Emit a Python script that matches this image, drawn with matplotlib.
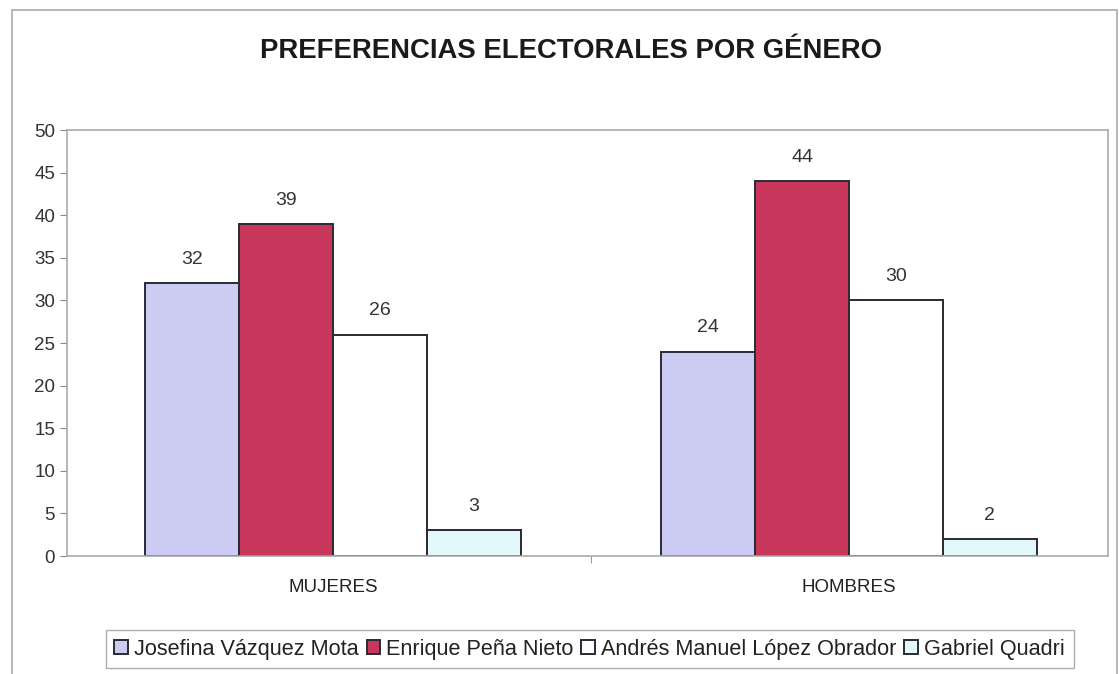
import numpy as np
from matplotlib import pyplot as plt
from matplotlib.patches import Rectangle

categorias = ['MUJERES', 'HOMBRES']
candidatos = ['Josefina Vázquez Mota', 'Enrique Peña Nieto',
              'Andrés Manuel López Obrador', 'Gabriel Quadri']
josefina = [32, 24]
enrique = [39, 44]
andres = [26, 30]
gabriel = [3, 2]
colores = ['#cbcbf3', '#c8365c', '#ffffff', '#e2f8fa']


def main():
    series = [josefina, enrique, andres, gabriel]
    plt.rcParams['font.family'] = 'Liberation Sans'
    fig = plt.figure(figsize=(11.19, 6.74), dpi=100)
    ax = fig.add_axes([67 / 1119, 0.175, 1041 / 1119, 0.632])

    x = np.arange(len(categorias))
    ancho = 0.182
    for i, valores in enumerate(series):
        pos = x + (i - 1.5) * ancho
        barras = ax.bar(pos, valores, width=ancho, color=colores[i],
                        edgecolor='#2a2a35', linewidth=1.4, label=candidatos[i])
        for b, v in zip(barras, valores):
            ax.annotate(str(v), (b.get_x() + b.get_width() / 2, v),
                        xytext=(0, 11), textcoords='offset points',
                        ha='center', va='bottom', fontsize=14,
                        color='#333333')

    ax.set_xlim(-0.516, 1.502)
    ax.set_ylim(0, 50)
    ax.set_yticks(range(0, 51, 5))
    ax.set_xticks([0.5])
    ax.set_xticklabels([''])
    for xi, cat in zip(x, categorias):
        ax.text(xi, -3.7, cat, ha='center', va='center', fontsize=13.5,
                color='#222222')
    ax.tick_params(axis='y', labelsize=13.5, colors='#888888', labelcolor='#333333',
                   length=5, direction='out')
    ax.tick_params(axis='x', colors='#999999', length=5, direction='out')
    for s in ax.spines.values():
        s.set_color('#aaaaaa')
        s.set_linewidth(1.2)

    fig.text(0.51, 0.924, 'PREFERENCIAS ELECTORALES POR GÉNERO', ha='center',
             va='center', fontsize=19.8, fontweight='bold', color='#1a1a1a')

    leg = fig.legend(loc='center', bbox_to_anchor=(0.527, 0.037), ncol=4,
                     frameon=True, fancybox=False,
                     handlelength=0.62, handleheight=0.62, handletextpad=0.3,
                     columnspacing=0.35, borderpad=0.4,
                     prop={'size': 15.6})
    leg.get_frame().set_edgecolor('#999999')
    leg.get_frame().set_linewidth(1.0)
    for t in leg.get_texts():
        t.set_color('#222222')

    fig.patches.append(Rectangle((12 / 1119, -0.01), 1105 / 1119, 1 - 10 / 674 + 0.01,
                                 transform=fig.transFigure, fill=False,
                                 edgecolor='#aaaaaa', linewidth=1.2))

    plt.savefig('out.png', dpi=100)


if __name__ == '__main__':
    main()
